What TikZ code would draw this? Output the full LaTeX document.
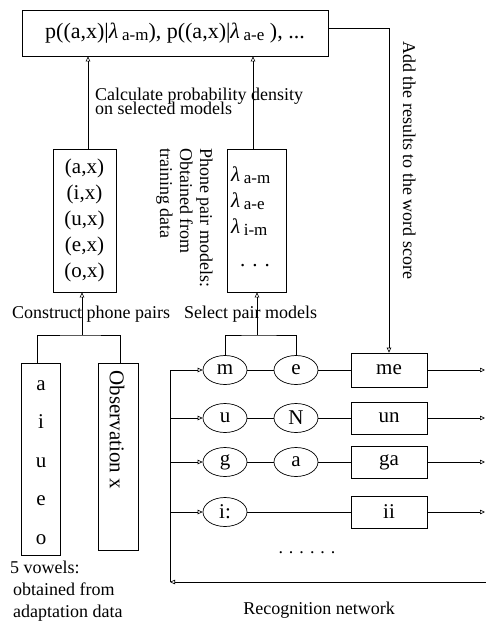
\documentclass[tikz,border=0pt]{standalone}
\usepackage{fontspec}
\setmainfont{Liberation Serif}
\usetikzlibrary{arrows.meta,shapes.geometric,calc}
\newcommand\bigf{\fontsize{21}{25.8}\selectfont}
\newcommand\topf{\fontsize{22}{26}\selectfont}
\newcommand\labf{\fontsize{18}{15}\selectfont}
\newcommand\subf{\fontsize{17}{17}\selectfont}
\newcommand\lam[1]{{\itshape λ}\,\raisebox{-2pt}{\subf #1}}
\tikzset{
  box/.style={draw, line width=0.7pt, inner sep=0pt, font=\bigf},
  ell/.style={draw, ellipse, line width=0.7pt, minimum width=44pt, minimum height=29pt, inner sep=0pt, font=\bigf},
  arr/.style={line width=0.6pt, -{Triangle[open,length=5pt,width=4.5pt]}},
  ln/.style={line width=0.6pt},
  lab/.style={font=\labf, inner sep=0pt},
  txt/.style={font=\bigf, inner sep=0pt}
}
\begin{document}
\begin{tikzpicture}[x=1pt,y=-1pt]
\useasboundingbox (0,0) rectangle (486,627);

% top box
\node[box, font=\topf, minimum width=306pt, minimum height=46pt] (top) at (175,33)
  {p((a,x)|\lam{a-m}), p((a,x)|\lam{a-e} ), ...};

% pairs box
\node[box, align=center, minimum width=63pt, minimum height=143pt] (pairs) at (84.5,220.5)
  {(a,x)\\(i,x)\\(u,x)\\(e,x)\\(o,x)};

% models box
\node[box, minimum width=59pt, minimum height=143pt] (models) at (256.5,220.5) {};
\node[txt, anchor=base west] (l1) at (231,181) {\lam{a-m}};
\node[txt, anchor=base west] (l2) at (231,207) {\lam{a-e}};
\node[txt, anchor=base west] (l3) at (231,233) {\lam{i-m}};
\node[txt, anchor=base] (l4) at (255,266) {. . .};

% arrows to top
\draw[arr] ([xshift=3.5pt]pairs.north) coordinate (a1) -- (a1 |- top.south);
\draw[arr] ([xshift=-3.5pt]models.north) coordinate (a2) -- (a2 |- top.south);

% labels
\node[lab, anchor=base west] (calc1) at (95,100) {Calculate probability density};
\node[lab, anchor=base west] (calc2) at (95,114) {on selected models};
\node[lab, anchor=base west, rotate=-90] (ph1) at (200,148) {Phone pair models:};
\node[lab, anchor=base west, rotate=-90] (ph2) at (180,148) {Obtained from};
\node[lab, anchor=base west, rotate=-90] (ph3) at (160,148) {training data};
\node[lab, anchor=base west, rotate=-90] (add) at (403,41) {Add the results to the word score};
\node[lab, anchor=base west] (cons) at (12,318) {Construct phone pairs};
\node[lab, anchor=base west] (sel) at (184,318) {Select pair models};

% vowels and observation
\node[box, minimum width=39pt, minimum height=192pt] (vowels) at (40.5,459) {};
\node[txt, anchor=base] (va) at (41,390) {a};
\node[txt, anchor=base] (vi) at (41,428.5) {i};
\node[txt, anchor=base] (vu) at (41,467) {u};
\node[txt, anchor=base] (ve) at (41,505.5) {e};
\node[txt, anchor=base] (vo) at (41,544) {o};
\node[box, minimum width=40pt, minimum height=187pt] (obs) at (118,456.5) {};
\node[txt, rotate=-90] (obst) at (117,430) {Observation x};

\node[lab, anchor=base west] (v1) at (10,573) {5 vowels:};
\node[lab, anchor=base west] (v2) at (13,595) {obtained from};
\node[lab, anchor=base west] (v3) at (13,617) {adaptation data};

% construct branch
\coordinate (c0) at (82,335);
\draw[arr] (c0) -- (c0 |- pairs.south);
\draw[ln] ([xshift=-3.5pt]vowels.north) |- (c0) -| ([xshift=2pt]obs.north);

% recognition network
\node[ell] (m) at (225,370) {m};
\node[ell] (e) at (296,370) {e};
\node[ell] (u) at (225,418) {u};
\node[ell] (N) at (296,418) {N};
\node[ell] (g) at (225,462) {g};
\node[ell] (a) at (296,462) {a};
\node[ell] (ic) at (225,512) {i:};
\node[box, minimum width=76pt, minimum height=34pt] (me) at (389,370) {me};
\node[box, minimum width=76pt, minimum height=32pt] (un) at (389,418) {un};
\node[box, minimum width=76pt, minimum height=32pt] (ga) at (389,462) {ga};
\node[box, minimum width=76pt, minimum height=32pt] (ii) at (389,512) {ii};

\draw[ln] (m) -- (e) -- (me);
\draw[ln] (u) -- (N) -- (un);
\draw[ln] (g) -- (a) -- (ga);
\draw[ln] (ic) -- (ii);

\coordinate (o1) at (485,370);
\coordinate (o2) at (485,418);
\coordinate (o3) at (485,462);
\coordinate (o4) at (485,512);
\draw[arr] (me) -- (o1);
\draw[arr] (un) -- (o2);
\draw[arr] (ga) -- (o3);
\draw[arr] (ii) -- (o4);

% select branch
\coordinate (s0) at (257,335);
\draw[arr] (s0) -- (s0 |- models.south);
\draw[ln] (m.north) |- (s0) -| (e.north);

% add results
\draw[arr] ([yshift=5pt]top.east) -| (me.north);

% feedback bus
\coordinate (feed) at (486,582);
\coordinate (busB) at (170,582);
\coordinate (busT) at (170,370);
\draw[arr] (feed) -- (busB);
\draw[ln] (busB) -- (busT);
\draw[arr] (busT) -- (m.west);
\draw[arr] (u.west -| busT) -- (u.west);
\draw[arr] (g.west -| busT) -- (g.west);
\draw[arr] (ic.west -| busT) -- (ic.west);

\node[lab, anchor=base] (dots) at (307,553) {. . . . . .};
\node[lab, anchor=base] (rec) at (319,614) {Recognition network};
\end{tikzpicture}
\end{document}
